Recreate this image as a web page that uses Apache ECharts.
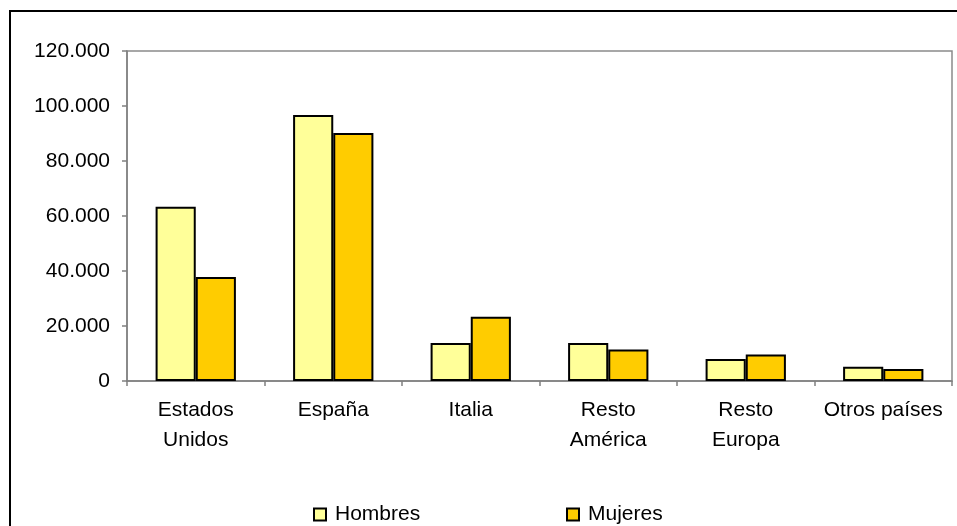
<!DOCTYPE html>
<html>
<head>
<meta charset="utf-8">
<script src="https://cdn.jsdelivr.net/npm/echarts@6/dist/echarts.min.js"></script>
<style>
  html, body { margin: 0; padding: 0; background: #fff; }
  #chart { width: 957px; height: 526px; }
</style>
</head>
<body>
<div id="chart"></div>
<script>
// Población por país de procedencia y sexo
const categories = ['Estados\nUnidos', 'España', 'Italia', 'Resto\nAmérica', 'Resto\nEuropa', 'Otros países'];
const hombres = [63400, 96700, 13800, 13800, 8000, 5200];
const mujeres = [37800, 90200, 23400, 11500, 9600, 4400];
const yTicks = { min: 0, max: 120000, interval: 20000 };

const FONT = '"Liberation Sans", Arial, sans-serif';

function fmtMiles(v) {
  return String(v).replace(/\B(?=(\d{3})+(?!\d))/g, '.');
}

function legendAt(name, left) {
  return {
    data: [name],
    left: left, top: 504,
    padding: 0,
    itemWidth: 12, itemHeight: 12,
    icon: 'rect',
    textStyle: { fontFamily: FONT, fontSize: 21, color: '#000', padding: [0, 0, 0, 4] }
  };
}

const chart = echarts.init(document.getElementById('chart'));
chart.setOption({
  animation: false,
  backgroundColor: '#ffffff',
  textStyle: { fontFamily: FONT },
  graphic: [{
    type: 'rect',
    shape: { x: 10, y: 11, width: 1000, height: 600 },
    style: { fill: 'none', stroke: '#000', lineWidth: 2 },
    silent: true
  }],
  grid: {
    left: 127, top: 51, right: 5, bottom: 145,
    show: true, borderColor: '#8a8a8a', borderWidth: 1.5, backgroundColor: 'transparent'
  },
  legend: [legendAt('Hombres', 313), legendAt('Mujeres', 566)],
  xAxis: {
    type: 'category',
    data: categories,
    axisLine: { lineStyle: { color: '#808080', width: 1.5 } },
    axisTick: { show: true, length: 5, lineStyle: { color: '#808080', width: 1.5 } },
    axisLabel: {
      fontFamily: FONT, fontSize: 21, color: '#000', lineHeight: 30, margin: 14,
      interval: 0
    },
    splitLine: { show: false }
  },
  yAxis: {
    type: 'value',
    min: yTicks.min, max: yTicks.max, interval: yTicks.interval,
    axisLine: { show: true, lineStyle: { color: '#808080', width: 1.5 } },
    axisTick: { show: true, length: 5, lineStyle: { color: '#808080', width: 1.5 } },
    axisLabel: {
      fontFamily: FONT, fontSize: 21, color: '#000', margin: 17,
      formatter: fmtMiles
    },
    splitLine: { show: false }
  },
  series: [{
    name: 'Hombres',
    type: 'bar',
    data: hombres,
    barGap: '0%',
    barCategoryGap: '41.6%',
    itemStyle: { color: '#FFFF99', borderColor: '#000', borderWidth: 2 }
  }, {
    name: 'Mujeres',
    type: 'bar',
    data: mujeres,
    barGap: '0%',
    barCategoryGap: '41.6%',
    itemStyle: { color: '#FFCC00', borderColor: '#000', borderWidth: 2 }
  }]
});
</script>
</body>
</html>
